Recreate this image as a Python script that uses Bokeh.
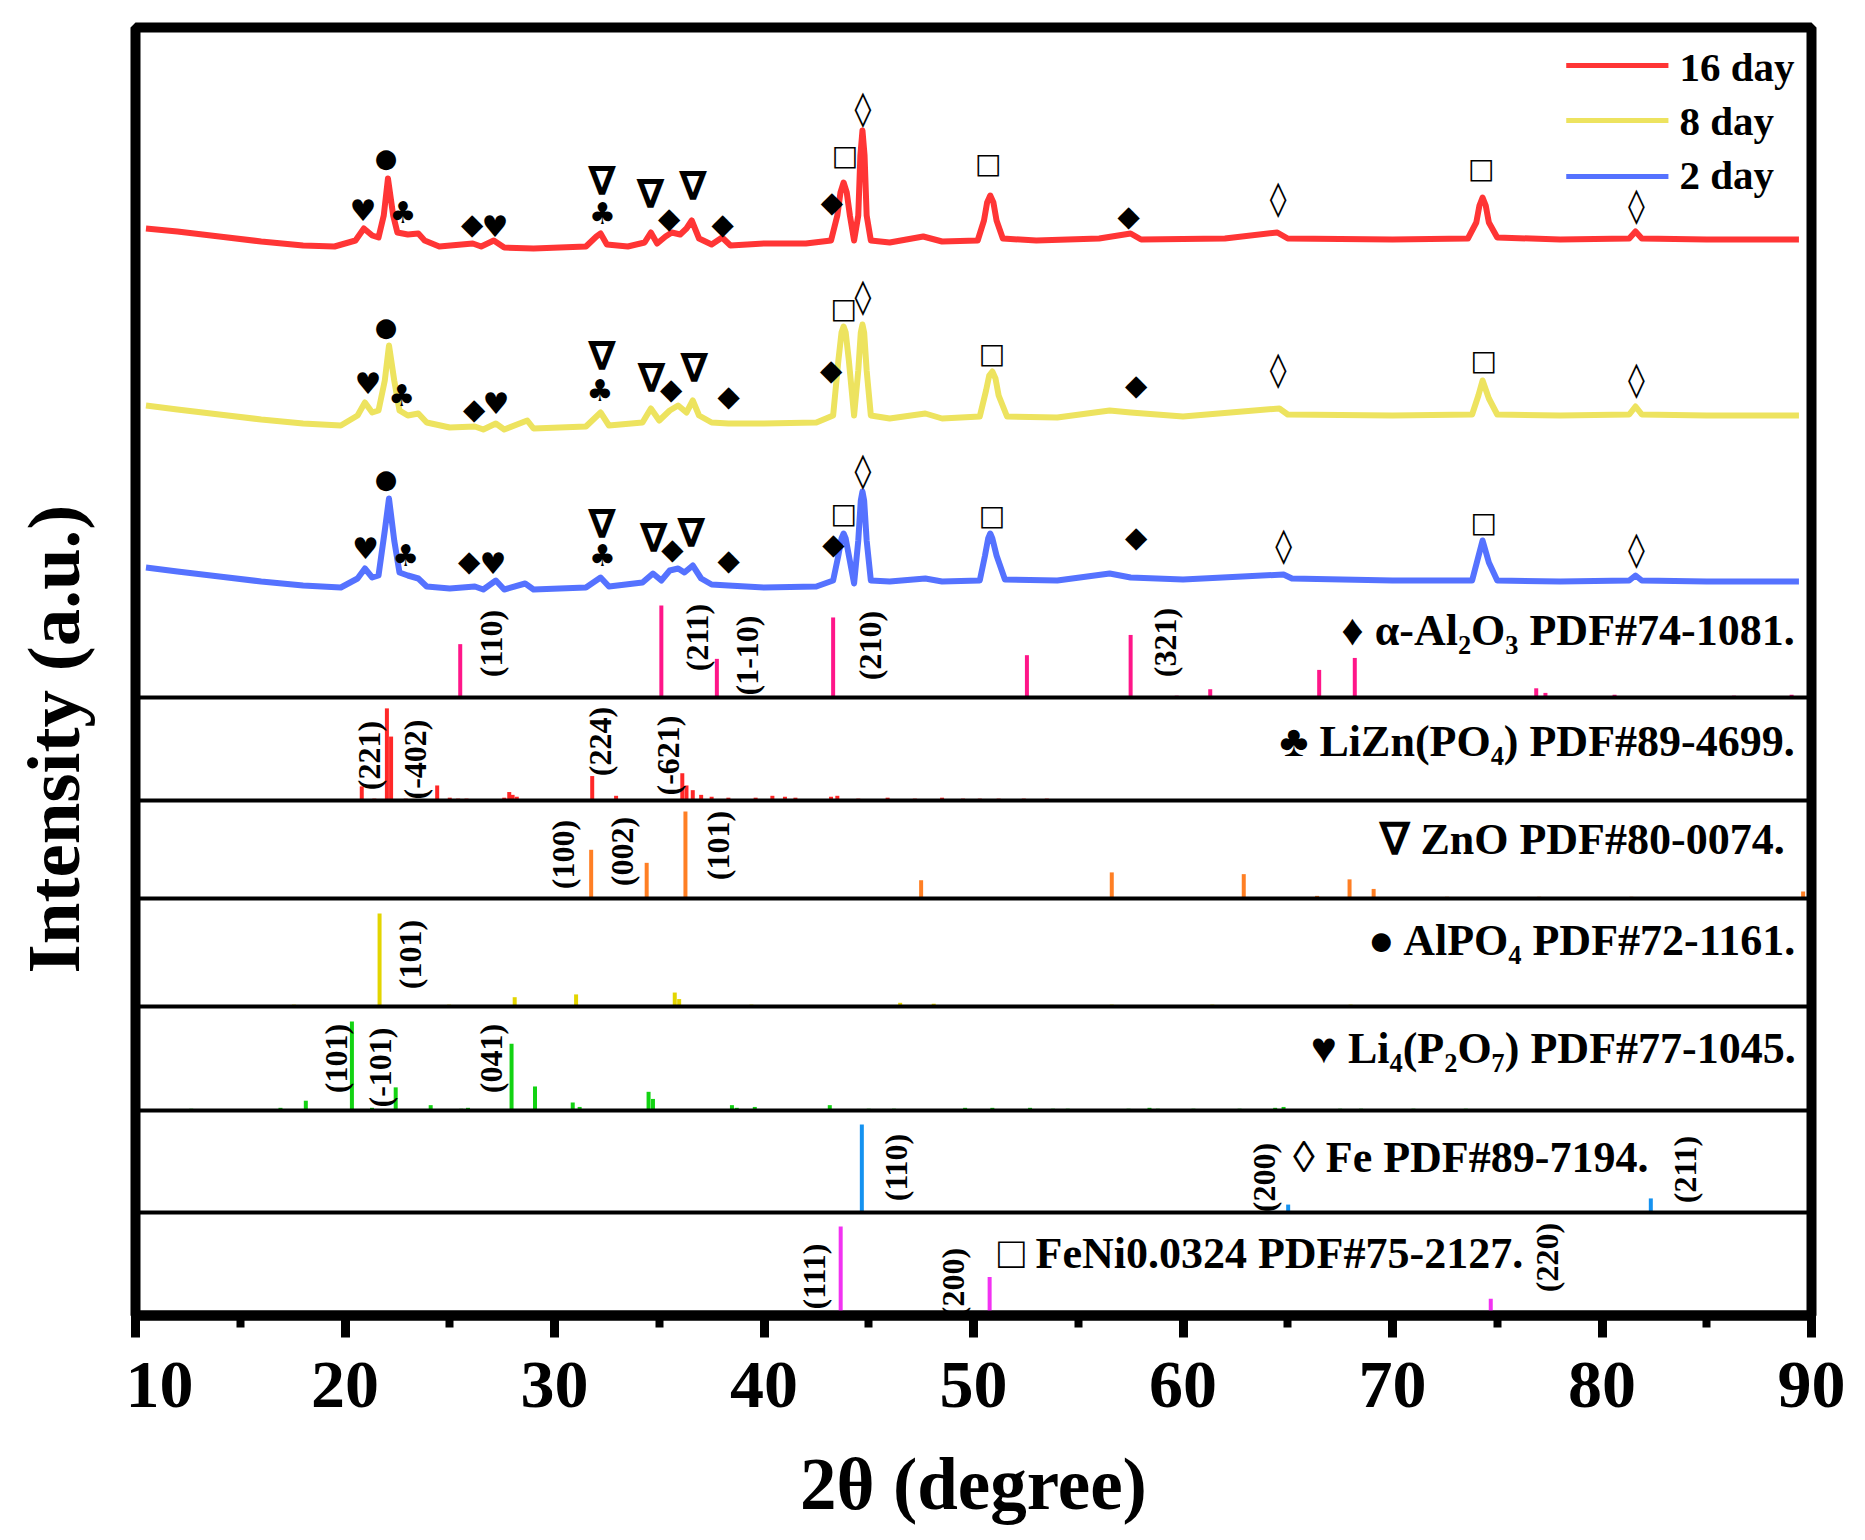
import math
from bokeh.plotting import figure
from bokeh.layouts import row
from bokeh.models import Range1d, SingleIntervalTicker, Span
from bokeh.core.properties import value
from bokeh.embed import file_html
from bokeh.resources import INLINE

SERIF = value("Liberation Serif")
SYMF = value("DejaVu Sans")

# ---------------- measured XRD patterns (2theta, intensity a.u.) ----------------
red_x = [10.5, 12, 14, 16, 18, 19.5, 20.5, 20.9, 21.3, 21.6, 21.85, 22.05, 22.3, 22.5, 23.0, 23.5, 23.8, 24.5,
         26.1, 26.5, 27.1, 27.6, 29, 31.5, 32.0, 32.2, 32.5, 33.5, 34.3, 34.6, 34.9, 35.3, 35.6, 36.0, 36.3,
         36.55, 36.9, 37.5, 38.0, 38.4, 40, 42, 43.2, 43.5, 43.65, 43.8, 43.95, 44.1, 44.3, 44.5, 44.6, 44.7,
         44.8, 44.9, 45.1, 46, 47.6, 48.5, 50.2, 50.5, 50.65, 50.8, 50.95, 51.1, 51.4, 53, 56, 57.5, 58, 62,
         64.5, 65, 70, 73.6, 74.0, 74.15, 74.3, 74.45, 74.6, 75.0, 78, 81.3, 81.6, 81.9, 85, 89.4]
red_y = [22, 19, 14, 9, 5, 4, 10, 22, 15, 13, 35, 72, 35, 18, 16, 17, 10, 4,
         7, 4, 10, 3, 2, 4, 14, 17, 6, 4, 8, 18, 7, 14, 18, 16, 22,
         30, 12, 6, 13, 5, 7, 7, 10, 35, 58, 68, 58, 35, 10, 35, 95, 120,
         95, 35, 10, 8, 14, 9, 10, 30, 48, 55, 48, 30, 12, 10, 12, 17, 11, 12,
         18, 12, 11, 12, 28, 45, 53, 45, 28, 13, 11, 12, 19, 12, 11, 11]

yel_x = [10.5, 12, 14, 16, 18, 19.8, 20.6, 20.95, 21.3, 21.6, 21.9, 22.1, 22.35, 22.6, 23.0, 23.5, 23.9, 25,
         26.2, 26.6, 27.2, 27.6, 28.7, 29.0, 31.5, 32.2, 32.6, 34.2, 34.6, 35.0, 35.5, 35.9, 36.3, 36.6, 36.9,
         37.5, 38.3, 40, 42.5, 43.3, 43.55, 43.7, 43.8, 43.9, 44.05, 44.3, 44.5, 44.62, 44.7, 44.78, 44.9, 45.1,
         46, 47.7, 48.5, 50.3, 50.6, 50.75, 50.9, 51.05, 51.2, 51.6, 54, 56.5, 57.5, 60, 64.6, 65, 70, 73.8,
         74.1, 74.3, 74.6, 75.0, 78, 81.3, 81.6, 81.9, 85, 89.4]
yel_y = [25, 21, 16, 11, 7, 5, 15, 28, 18, 20, 50, 85, 50, 20, 15, 17, 8, 3,
         4, 1, 7, 1, 10, 2, 4, 18, 5, 8, 22, 10, 20, 25, 18, 30, 15,
         8, 7, 7, 8, 15, 70, 98, 104, 98, 70, 15, 60, 98, 106, 98, 60, 15,
         12, 17, 12, 14, 40, 55, 59, 52, 35, 14, 13, 20, 18, 14, 22, 16, 15, 16,
         35, 50, 32, 16, 15, 16, 24, 16, 15, 15]

blu_x = [10.5, 12, 14, 16, 18, 19.8, 20.6, 20.95, 21.3, 21.6, 21.9, 22.1, 22.35, 22.6, 23.0, 23.5, 23.9, 25,
         26.2, 26.6, 27.2, 27.6, 28.6, 29, 31.5, 32.2, 32.6, 34.2, 34.7, 35.1, 35.5, 35.9, 36.2, 36.6, 37.0,
         37.5, 38.3, 40, 42.5, 43.3, 43.55, 43.7, 43.8, 43.9, 44.05, 44.3, 44.5, 44.62, 44.7, 44.78, 44.9, 45.1,
         46, 47.7, 48.5, 50.3, 50.55, 50.7, 50.8, 50.9, 51.1, 51.5, 54, 56.5, 57.5, 60, 64.8, 65.2, 70, 73.8,
         74.05, 74.3, 74.6, 75.0, 78, 81.3, 81.6, 81.9, 85, 89.4]
blu_y = [23, 19, 14, 9, 5, 3, 12, 22, 13, 15, 60, 92, 50, 18, 15, 12, 4, 2,
         4, 1, 10, 1, 7, 1, 3, 13, 4, 8, 17, 10, 20, 22, 18, 25, 12,
         6, 5, 3, 4, 10, 35, 52, 57, 52, 35, 7, 50, 90, 99, 90, 50, 10,
         9, 12, 9, 10, 35, 52, 57, 52, 35, 11, 10, 17, 13, 11, 16, 12, 10, 10,
         30, 50, 28, 10, 9, 10, 15, 10, 9, 9]

# phase marks above the measured patterns (2theta, height a.u., symbol)
red_mk = [(20.86, 40, "♥"), (21.96, 93, "●"), (22.77, 38, "♣"), (26.07, 27, "◆"), (27.16, 24, "♥"),
          (32.26, 70, "∇"), (32.29, 37, "♣"), (34.58, 57, "∇"), (35.47, 33, "◆"), (36.61, 65, "∇"),
          (38.03, 27, "◆"), (43.24, 49, "◆"), (43.86, 95, "□"), (44.72, 143, "◊"), (50.7, 87, "□"),
          (57.4, 35, "◆"), (64.54, 53, "◊"), (74.24, 82, "□"), (81.64, 46, "◊")]
yel_mk = [(21.96, 104, "●"), (21.1, 47, "♥"), (22.71, 35, "♣"), (26.17, 22, "◆"), (27.2, 27, "♥"),
          (32.26, 75, "∇"), (32.17, 40, "♣"), (34.63, 53, "∇"), (35.57, 42, "◆"), (36.67, 63, "∇"),
          (38.31, 35, "◆"), (43.2, 61, "◆"), (43.8, 122, "□"), (44.72, 135, "◊"), (50.88, 77, "□"),
          (57.76, 46, "◆"), (64.54, 62, "◊"), (74.35, 70, "□"), (81.64, 52, "◊")]
blu_mk = [(21.96, 112, "●"), (20.98, 42, "♥"), (22.9, 35, "♣"), (25.93, 30, "◆"), (27.06, 27, "♥"),
          (32.26, 67, "∇"), (32.29, 35, "♣"), (34.73, 53, "∇"), (35.63, 42, "◆"), (36.52, 58, "∇"),
          (38.31, 31, "◆"), (43.31, 47, "◆"), (43.8, 77, "□"), (44.72, 121, "◊"), (50.88, 75, "□"),
          (57.76, 54, "◆"), (64.8, 46, "◊"), (74.35, 68, "□"), (81.64, 42, "◊")]

series_names = ["16 day", "8 day", "2 day"]

# ---------------- reference patterns (2theta, relative intensity %) ----------------
al2o3_x = [25.5, 35.1, 37.75, 43.3, 52.55, 57.5, 59.7, 61.3, 66.5, 68.2, 70.5, 74.3, 76.86, 77.3, 80.6, 84.4, 86.3, 89.05]
al2o3_i = [58, 100, 42, 87, 46, 68, 2, 9, 30, 43, 1, 1, 10, 5, 3, 1, 2, 3]
lizn_x = [17.94, 20.8, 21.4, 22.0, 22.2, 22.9, 24.4, 25.0, 25.4, 25.8, 27.6, 27.84, 28.0, 28.2, 29.5, 30.5, 31.8,
          32.94, 36.1, 36.3, 36.6, 37.0, 37.5, 38.3, 39.6, 40.4, 41.0, 41.5, 43.2, 43.5, 44.5, 45.9, 47.2, 48.5,
          49.5, 50.3, 51.2, 52.4, 53.5]
lizn_i = [1, 15, 2, 98, 68, 2, 16, 3, 2, 2, 3, 9, 6, 4, 1, 1, 26,
          5, 29, 16, 11, 6, 4, 3, 3, 5, 4, 3, 4, 5, 2, 3, 2, 3,
          2, 2, 2, 2, 2]
zno_x = [31.75, 34.4, 36.25, 47.5, 56.6, 62.9, 66.4, 67.95, 69.1, 72.6, 77.0, 81.4, 89.6]
zno_i = [56, 41, 100, 21, 30, 28, 3, 22, 11, 2, 2, 2, 8]
alpo4_x = [17.56, 21.65, 24.97, 28.1, 31.03, 35.74, 35.95, 39.4, 46.5, 48.1, 56.6, 61.4, 64.5, 68.0, 72.0, 76.0, 80.0]
alpo4_i = [2, 100, 2, 10, 13, 15, 8, 2, 4, 3, 2, 2, 1, 2, 1, 1, 1]
li4_x = [12.66, 16.92, 18.13, 20.33, 21.29, 22.42, 24.09, 25.55, 25.87, 27.95, 29.07, 30.87, 31.2, 34.49, 34.7,
         38.47, 38.7, 39.56, 43.14, 45.0, 46.2, 49.6, 50.9, 52.7, 53.8, 54.5, 57.4, 58.4, 58.8, 60.5, 62.7,
         64.4, 64.8, 67.5, 68.5, 71.0, 73.5]
li4_i = [2, 3, 11, 100, 3, 26, 6, 2, 3, 75, 27, 9, 4, 21, 13,
         6, 3, 4, 6, 2, 2, 3, 3, 3, 2, 2, 2, 3, 2, 2, 2,
         3, 4, 2, 2, 2, 2]
fe_x = [44.67, 65.02, 82.33]
fe_i = [100, 9, 16]
feni_x = [43.66, 50.77, 74.69]
feni_i = [100, 42, 17]

phase_names = ["♦ α-Al₂O₃ PDF#74-1081.", "♣ LiZn(PO₄) PDF#89-4699.", "∇ ZnO PDF#80-0074.",
               "● AlPO₄ PDF#72-1161.", "♥ Li₄(P₂O₇) PDF#77-1045.", "◊ Fe PDF#89-7194.",
               "□ FeNi0.0324 PDF#75-2127."]

# Miller indices shown beside the reference lines (2theta of label, text) per panel
hkl = [
    [(26.98, "(110)"), (36.78, "(211)"), (39.2, "(1-10)"), (45.08, "(210)"), (59.15, "(321)")],
    [(21.16, "(221)"), (23.33, "(-402)"), (32.15, "(224)"), (35.4, "(-621)")],
    [(30.39, "(100)"), (33.23, "(002)"), (37.79, "(101)")],
    [(23.1, "(101)")],
    [(19.57, "(101)"), (21.67, "(-101)"), (26.97, "(041)")],
    [(46.28, "(110)"), (63.87, "(200)"), (83.97, "(211)")],
    [(42.4, "(111)"), (49.0, "(200)"), (77.37, "(220)")],
]

# ---------------- layout (pixel geometry of the frame) ----------------
FB = 1315  # page y of frame bottom


def Y(page_y):
    return FB - page_y


def X(page_x):
    return 10 + (page_x - 137) / 20.91


curve_base = [250, 430, 590]           # page y of each pattern's zero
curve_col = ["#FF3535", "#EDE35F", "#5572FF"]
panel_base = [697, 800, 898, 1006, 1110, 1212, 1313]
panel_scale = [92, 94, 87, 93, 89, 88, 87]
stick_col = ["#FF1689", "#FF2828", "#FF7F24", "#E3D500", "#13D313", "#1592F0", "#F232F2"]
separators = [697, 800, 898, 1006, 1110, 1212]
label_right = [1793, 1793, 1783, 1796, 1794, 1647, 1522]
label_mid = [630, 741, 839, 940, 1048, 1157, 1253]
hkl_y = [[643, 637, 655, 645, 642], [755, 759, 741, 755], [854, 851, 845], [954],
         [1058, 1067, 1058], [1167, 1177, 1169], [1276, 1282, 1257]]
sym_size = {"♥": "30px", "●": "26px", "♣": "30px", "◆": "29px", "∇": "40px", "□": "28px", "◊": "34px"}

W, H = 1860, 1535
LW = 125   # width of the strip holding the y-axis title

# strip with the y-axis title
pt = figure(width=LW, height=H, x_range=Range1d(0, LW), y_range=Range1d(0, H),
            output_backend="svg", toolbar_location=None, min_border=0)
pt.axis.visible = False
pt.grid.visible = False
pt.outline_line_color = None
pt.background_fill_color = "white"
pt.border_fill_color = "white"
pt.text(x=[53], y=[H - 848], text=["Intensity (a.u.)"], angle=math.pi / 2,
        text_align="center", text_baseline="middle", text_font=SERIF, text_font_style="bold",
        text_font_size="75px", text_color="black")

MW = W - LW
p = figure(width=MW, height=H, x_range=Range1d(10, 90), y_range=Range1d(0, 1288),
           output_backend="svg", toolbar_location=None,
           min_border_left=135 - LW, min_border_right=MW - (135 - LW) - 1676, min_border_top=27,
           min_border_bottom=H - 27 - 1288)
p.background_fill_color = "white"
p.border_fill_color = "white"
p.outline_line_color = "black"
p.outline_line_width = 10
p.xgrid.visible = False
p.ygrid.visible = False
p.yaxis.visible = False

ax = p.xaxis[0]
ax.ticker = SingleIntervalTicker(interval=10, num_minor_ticks=2)
ax.axis_line_width = 10
ax.major_tick_in = 0
ax.major_tick_out = 22
ax.major_tick_line_width = 9
ax.minor_tick_in = 0
ax.minor_tick_out = 12
ax.minor_tick_line_width = 8
ax.major_label_text_font = "Liberation Serif"
ax.major_label_text_font_style = "bold"
ax.major_label_text_font_size = "68px"
ax.major_label_text_color = "black"
ax.major_label_standoff = 25
ax.axis_label = "2θ (degree)"
ax.axis_label_text_font = "Liberation Serif"
ax.axis_label_text_font_style = "bold"
ax.axis_label_text_font_size = "73px"
ax.axis_label_text_color = "black"
ax.axis_label_standoff = 34

# separators between reference panels
for s in separators:
    p.add_layout(Span(location=Y(s), dimension="width", line_color="black", line_width=4))

# reference sticks and phase labels
ref_x = [al2o3_x, lizn_x, zno_x, alpo4_x, li4_x, fe_x, feni_x]
ref_i = [al2o3_i, lizn_i, zno_i, alpo4_i, li4_i, fe_i, feni_i]
for k in range(7):
    b = Y(panel_base[k])
    xs = ref_x[k]
    p.segment(x0=xs, y0=[b] * len(xs), x1=xs,
              y1=[b + v / 100.0 * panel_scale[k] for v in ref_i[k]],
              line_color=stick_col[k], line_width=4)
    p.text(x=[X(label_right[k])], y=[Y(label_mid[k])], text=[phase_names[k]],
           text_align="right", text_baseline="middle",
           text_font=SERIF, text_font_style="bold", text_font_size="44px", text_color="black")

# Miller index labels
for items, ys in zip(hkl, hkl_y):
    p.text(x=[it[0] for it in items], y=[Y(v) for v in ys], text=[it[1] for it in items],
           angle=math.pi / 2, text_align="center", text_baseline="middle",
           text_font=SERIF, text_font_style="bold", text_font_size="32px", text_color="black")

# measured patterns with phase marks
cx = [red_x, yel_x, blu_x]
cy = [red_y, yel_y, blu_y]
mks = [red_mk, yel_mk, blu_mk]
for k in range(3):
    off = Y(curve_base[k])
    p.line(cx[k], [off + v for v in cy[k]], line_color=curve_col[k], line_width=6, line_join="round")
    m = mks[k]
    p.text(x=[a[0] for a in m], y=[off + a[1] for a in m], text=[a[2] for a in m],
           text_font_size=[sym_size[a[2]] for a in m], text_font_style="bold",
           text_align="center", text_baseline="middle", text_font=SYMF, text_color="black")

# legend
leg_y = [65, 120, 176]
leg_mid = [66, 120, 174]
p.segment(x0=[X(1565)] * 3, y0=[Y(v) for v in leg_y], x1=[X(1667)] * 3, y1=[Y(v) for v in leg_y],
          line_color=curve_col, line_width=5)
p.text(x=[X(1678)] * 3, y=[Y(v) for v in leg_mid], text=series_names,
       text_align="left", text_baseline="middle",
       text_font=SERIF, text_font_style="bold", text_font_size="41px", text_color="black")

layout = row(pt, p, spacing=0)
open("out.html", "w").write(file_html(layout, INLINE))
